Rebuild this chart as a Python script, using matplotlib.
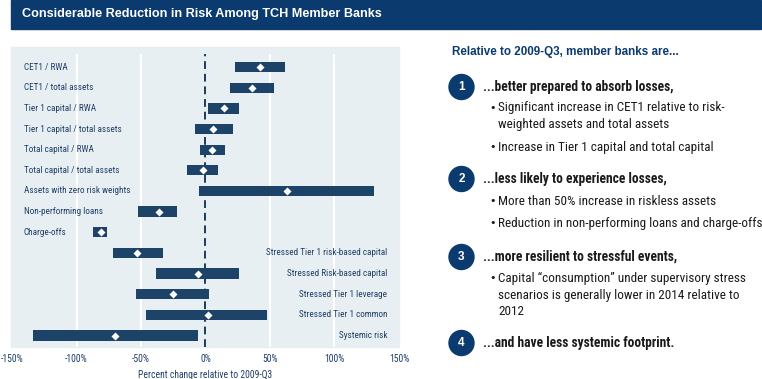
import matplotlib
matplotlib.use("Agg")
import matplotlib.pyplot as plt
from matplotlib.patches import Rectangle, Ellipse
from matplotlib import font_manager

W, H = 762, 379

# ---------------- data ----------------
categories = [
    "CET1 / RWA", "CET1 / total assets", "Tier 1 capital / RWA",
    "Tier 1 capital / total assets", "Total capital / RWA",
    "Total capital / total assets", "Assets with zero risk weights",
    "Non-performing loans", "Charge-offs",
    "Stressed Tier 1 risk-based capital", "Stressed Risk-based capital",
    "Stressed Tier 1 leverage", "Stressed Tier 1 common", "Systemic risk",
]
low = [23, 19, 2, -8, -4, -14, -5, -52, -87, -72, -38, -54, -46, -134]
high = [62, 53, 26, 21, 15, 10, 131, -22, -76, -33, 26, 3, 48, -6]
mid = [42, 36, 14, 6, 5, -2, 63, -36, -81, -53, -6, -25, 2, -70]
right_aligned = [False] * 9 + [True] * 5
xticks = [-150, -100, -50, 0, 50, 100, 150]
xtick_labels = ["-150%", "-100%", "-50%", "0%", "50%", "100%", "150%"]

title = "Considerable Reduction in Risk Among TCH Member Banks"
right_title = "Relative to 2009-Q3, member banks are..."
numbers = ["1", "2", "3", "4"]
headings = [
    "...better prepared to absorb losses,",
    "...less likely to experience losses,",
    "...more resilient to stressful events,",
    "...and have less systemic footprint.",
]
bullets = [
    [["Significant increase in CET1 relative to risk-", "weighted assets and total assets"],
     ["Increase in Tier 1 capital and total capital"]],
    [["More than 50% increase in riskless assets"],
     ["Reduction in non-performing loans and charge-offs"]],
    [["Capital \u201cconsumption\u201d under supervisory stress",
      "scenarios is generally lower in 2014 relative to", "2012"]],
    [],
]

# ---------------- style ----------------
cands = []
for f in font_manager.fontManager.ttflist:
    nm = f.name.lower()
    fn = f.fname.lower()
    if ("narrow" in nm or "condensed" in nm or "condensed" in fn or "narrow" in fn
            or str(f.stretch) in ("condensed", "semi-condensed")):
        cands.append(f)


def pick(bold):
    best = None
    for f in cands:
        isb = f.weight in ("bold", 700, "700") or "bold" in f.fname.lower()
        if isb != bold or f.style != "normal":
            continue
        if "oblique" in f.fname.lower() or "italic" in f.fname.lower():
            continue
        best = f.fname
        if "liberation" in f.fname.lower() or "roboto" in f.fname.lower():
            break
    return best


reg_file = pick(False)
bold_file = pick(True)
if reg_file:
    FP = dict(fontproperties=font_manager.FontProperties(fname=reg_file))
    SCALE = 1.0
else:
    FP = dict(family=["Liberation Sans", "DejaVu Sans"])
    SCALE = 0.85
if bold_file:
    FPB = dict(fontproperties=font_manager.FontProperties(fname=bold_file))
    SCALEB = 1.0
else:
    FPB = dict(family=["Liberation Sans", "DejaVu Sans"], fontweight="bold")
    SCALEB = 0.85


def tfp(d, size):
    d = dict(d)
    if "fontproperties" in d:
        p = d["fontproperties"].copy()
        p.set_size(size)
        d["fontproperties"] = p
    else:
        d["fontsize"] = size
    return d


NAVY = "#0b3a6e"
BAR = "#1d4369"
PANEL = "#e8eff2"
LABEL = "#1f3f66"
TEXT = "#1a1a1a"

fig = plt.figure(figsize=(W / 100, H / 100), dpi=100)


def fx(x):
    return x / W


def fy(y):
    return 1 - y / H


# header banner
fig.patches.append(Rectangle((fx(11), fy(29)), fx(761) - fx(11), fy(0) - fy(29),
                             transform=fig.transFigure, color=NAVY, zorder=0))
fig.text(fx(22), fy(14.5), title, color="white", ha="left", va="center",
         family=["Liberation Sans", "DejaVu Sans"], fontweight="bold", fontsize=9.1)

# panel background
fig.patches.append(Rectangle((fx(11), fy(347)), fx(399) - fx(11), fy(47) - fy(347),
                             transform=fig.transFigure, color=PANEL, zorder=0))

ax = fig.add_axes([fx(12), fy(347), fx(399) - fx(12), fy(54) - fy(347)])
ax.set_zorder(2)
ax.set_facecolor("none")
n = len(categories)
ys = list(range(n))
ax.set_xlim(-150, 150)
ax.set_ylim(n - 1 + 0.55, -0.63)

for g in [-100, -50, 50, 100]:
    ax.axvline(g, color="white", lw=1.5, zorder=1)
ax.axvline(0, color="#1d3a5c", lw=1.4, ls=(0, (4, 2.5)), zorder=2)

widths = [h - l for l, h in zip(low, high)]
ax.barh(ys, widths, left=low, height=0.5, color=BAR, zorder=3)
ax.plot(mid, ys, ls="none", marker="D", ms=3.6, color="white", mec="none", zorder=4)

LS = 6.6 * SCALE
for y, lab, r in zip(ys, categories, right_aligned):
    if r:
        ax.text(141, y, lab, ha="right", va="center", color=LABEL, **tfp(FP, LS))
    else:
        ax.text(-141, y, lab, ha="left", va="center", color=LABEL, **tfp(FP, LS))

ax.set_yticks([])
ax.set_xticks(xticks)
ax.set_xticklabels(xtick_labels, color=LABEL, **tfp(FP, 6.9 * SCALE))
ax.tick_params(axis="x", length=0, pad=5)
for s in ax.spines.values():
    s.set_visible(False)
ax.set_xlabel("Percent change relative to 2009-Q3", color=LABEL, labelpad=4,
              **tfp(FP, 6.9 * SCALE))

# right side text
fig.text(fx(452), fy(52), right_title, color=NAVY, ha="left", va="center",
         family=["Liberation Sans", "DejaVu Sans"], fontweight="bold", fontsize=8.4)

head_y = [87, 179, 257, 343]
line_y = [[[108, 124.5], [147]], [[201], [223]], [[278, 295, 311.5]], []]
RS = 9.5 * SCALE
RSB = 9.75 * SCALEB
for num, head, bl, hy, lys in zip(numbers, headings, bullets, head_y, line_y):
    fig.patches.append(Ellipse((fx(461.5), fy(hy)), 25 / W, 25 / H,
                               transform=fig.transFigure, color=NAVY, zorder=2))
    fig.text(fx(461.5), fy(hy), num, color="white", fontsize=8.5, fontweight="bold",
             ha="center", va="center", family=["Liberation Sans", "DejaVu Sans"], zorder=3)
    fig.text(fx(483), fy(hy), head, color=TEXT, ha="left", va="center", **tfp(FPB, RSB))
    for lines, ysl in zip(bl, lys):
        fig.text(fx(489), fy(ysl[0]), "\u2022", color=TEXT, fontsize=8,
                 ha="left", va="center", family=["DejaVu Sans"])
        for ln, yy in zip(lines, ysl):
            fig.text(fx(498), fy(yy), ln, color=TEXT, ha="left", va="center", **tfp(FP, RS))

fig.savefig("out.png", dpi=100)
